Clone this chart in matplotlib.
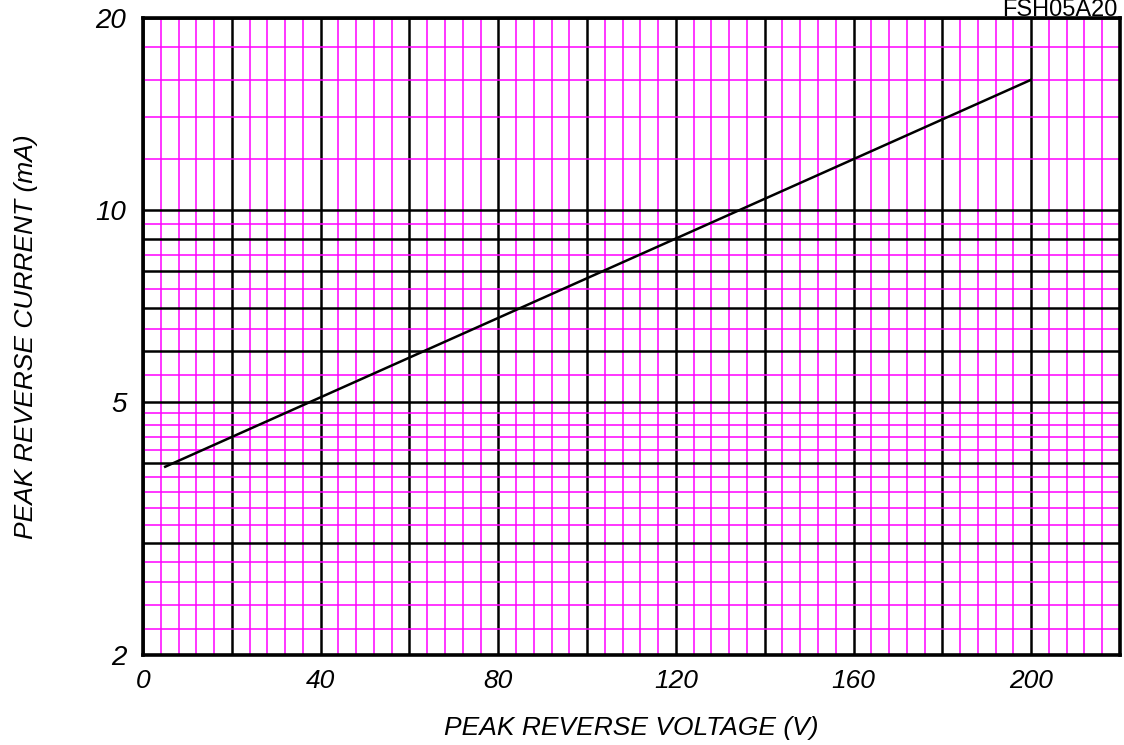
import numpy as np
import matplotlib
matplotlib.use("Agg")
import matplotlib.pyplot as plt
from matplotlib.ticker import FixedLocator, FixedFormatter, NullFormatter

plt.rcParams['font.family'] = ['Liberation Sans', 'DejaVu Sans']

## Data
voltage = [5, 200]
current = [3.95, 16.0]

x_major = list(range(0, 221, 20))
x_minor = [v for v in range(0, 221, 4) if v % 20]
x_labels = ["0", "", "40", "", "80", "", "120", "", "160", "", "200", ""]
y_major = [2, 3, 4, 5, 6, 7, 8, 9, 10, 20]
y_minor = ([round(2 + 0.2 * i, 1) for i in range(1, 15) if i % 5] +
           [5.5, 6.5, 7.5, 8.5, 9.5] + [12, 14, 16, 18])
y_labels = ["2", "", "", "5", "", "", "", "", "10", "20"]

fig = plt.figure(figsize=(11.24, 7.45), dpi=100)
ax = fig.add_axes([143 / 1124, 1 - 655 / 745, (1120 - 143) / 1124, (655 - 18) / 745])
ax.set_yscale('log')
ax.set_xlim(0, 220)
ax.set_ylim(2, 20)

ax.xaxis.set_major_locator(FixedLocator(x_major))
ax.xaxis.set_minor_locator(FixedLocator(x_minor))
ax.xaxis.set_major_formatter(FixedFormatter(x_labels))
ax.xaxis.set_minor_formatter(NullFormatter())
ax.yaxis.set_major_locator(FixedLocator(y_major))
ax.yaxis.set_minor_locator(FixedLocator(y_minor))
ax.yaxis.set_major_formatter(FixedFormatter(y_labels))
ax.yaxis.set_minor_formatter(NullFormatter())

ax.grid(which='minor', color='#ff00ff', lw=1.1, zorder=1)
ax.grid(which='major', color='black', lw=1.8, zorder=2)
ax.set_axisbelow(True)
ax.tick_params(which='both', length=0)
ax.tick_params(axis='x', pad=10, labelsize=19)
ax.tick_params(axis='y', pad=12, labelsize=20)
for lab in ax.get_xticklabels() + ax.get_yticklabels():
    lab.set_style('italic')
for s in ax.spines.values():
    s.set_linewidth(2.6)

ax.plot(voltage, current, color='black', lw=1.8, zorder=3)

ax.set_xlabel("PEAK REVERSE VOLTAGE (V)", fontsize=19, style='italic', labelpad=17)
ax.set_ylabel("PEAK REVERSE CURRENT (mA)", fontsize=19, style='italic')
ax.yaxis.set_label_coords(-0.1075, 0.5)
fig.text(1118 / 1124, 1 - 16 / 745, "FSH05A20", ha='right', va='baseline', fontsize=17)

fig.savefig("out.png", dpi=100)
